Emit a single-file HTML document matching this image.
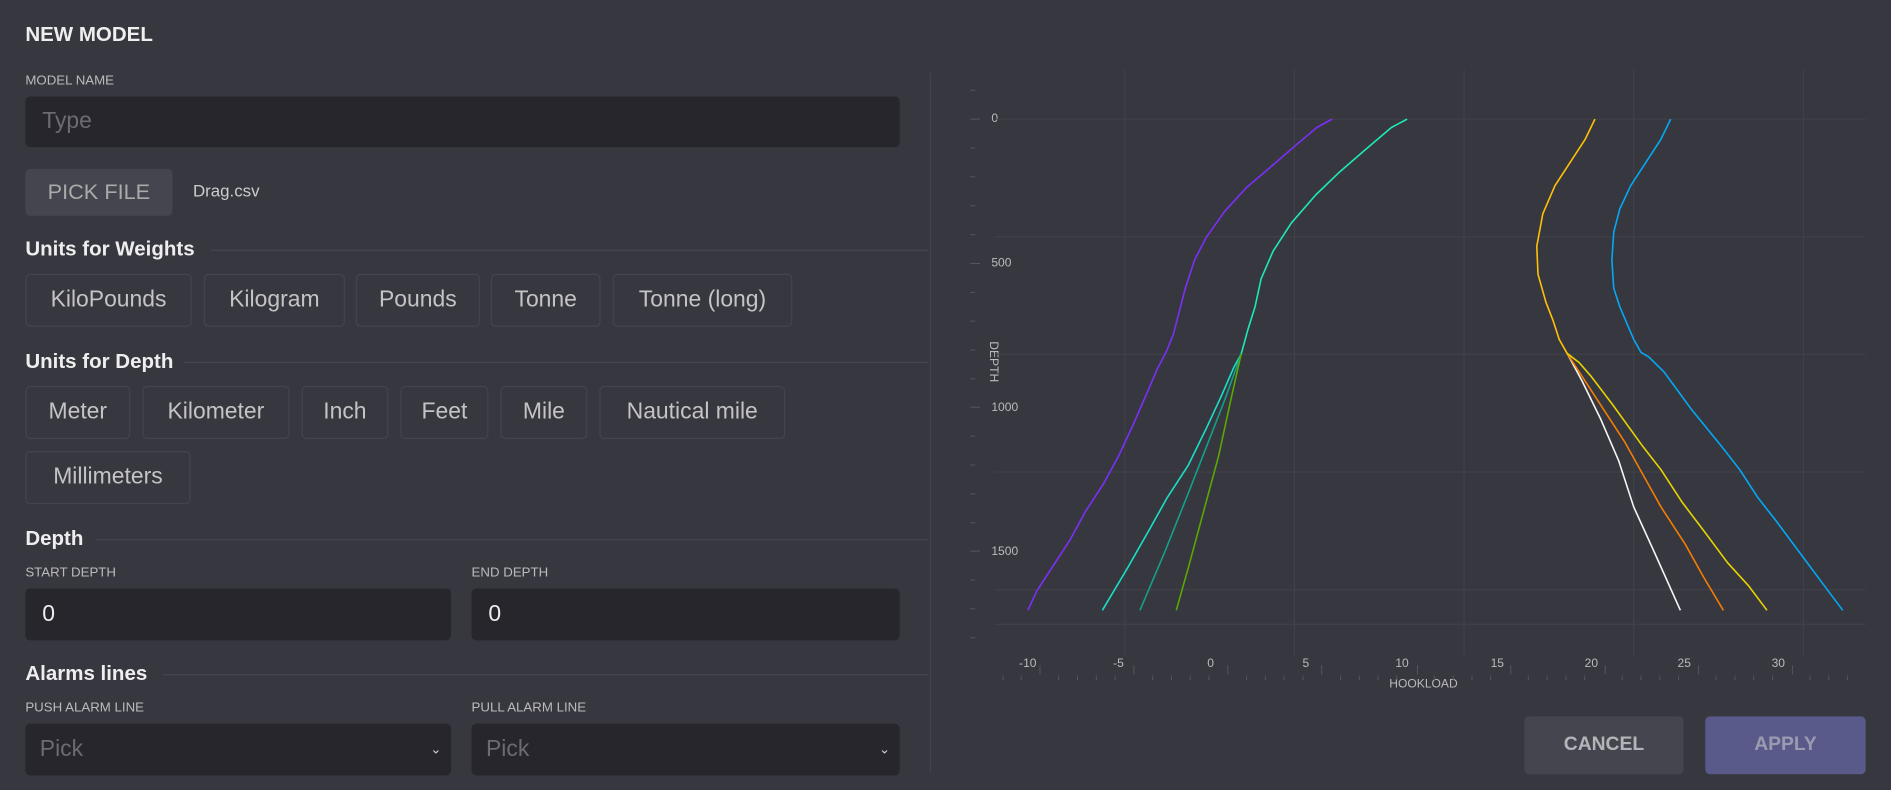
<!DOCTYPE html>
<html><head><meta charset="utf-8"><style>
html,body{margin:0;padding:0;background:#373740;width:1891px;height:790px;overflow:hidden;font-family:"Liberation Sans",sans-serif;}
#w{position:absolute;left:0;top:0;width:1568px;height:655px;transform:scale(1.20599);transform-origin:0 0;color:#ddd;}
.a{position:absolute;white-space:nowrap;}
.lbl{font-size:11px;color:#bbb;}
.h{font-size:17px;font-weight:bold;color:#eee;}
.line{position:absolute;height:1px;background:#46464e;}
.btn{position:absolute;border:1px solid #44444c;border-radius:4px;box-sizing:border-box;font-size:19px;color:#c4c4c4;display:flex;align-items:center;justify-content:center;}
.inp{position:absolute;background:#26262c;border-radius:4px;box-sizing:border-box;padding-left:14px;display:flex;align-items:center;font-size:19px;}
.tk{position:absolute;font-size:10px;color:#bbb;}
</style></head><body>
<div id="w">
<div class="a h" style="left:21px;top:19px;">NEW MODEL</div>
<div class="a lbl" style="left:21px;top:61px;">MODEL NAME</div>
<div class="inp" style="left:21px;top:80px;width:725px;height:42px;color:#6b6b72;">Type</div>
<div class="a" style="left:21px;top:140px;width:122px;height:39px;background:#45454f;border-radius:4px;color:#aaa;font-size:18px;display:flex;align-items:center;justify-content:center;">PICK FILE</div>
<div class="a" style="left:160px;top:150px;font-size:14px;color:#ccc;">Drag.csv</div>

<div class="a h" style="left:21px;top:197px;">Units for Weights</div>
<div class="line" style="left:175px;top:207px;width:595px;"></div>
<div class="btn" style="left:21px;top:227px;width:138px;height:44px;">KiloPounds</div>
<div class="btn" style="left:169px;top:227px;width:117px;height:44px;">Kilogram</div>
<div class="btn" style="left:295px;top:227px;width:103px;height:44px;">Pounds</div>
<div class="btn" style="left:407px;top:227px;width:91px;height:44px;">Tonne</div>
<div class="btn" style="left:508px;top:227px;width:149px;height:44px;">Tonne (long)</div>

<div class="a h" style="left:21px;top:290px;">Units for Depth</div>
<div class="line" style="left:152px;top:300px;width:618px;"></div>
<div class="btn" style="left:21px;top:320px;width:87px;height:44px;">Meter</div>
<div class="btn" style="left:118px;top:320px;width:122px;height:44px;">Kilometer</div>
<div class="btn" style="left:250px;top:320px;width:72px;height:44px;">Inch</div>
<div class="btn" style="left:332px;top:320px;width:73px;height:44px;">Feet</div>
<div class="btn" style="left:415px;top:320px;width:72px;height:44px;">Mile</div>
<div class="btn" style="left:497px;top:320px;width:154px;height:44px;">Nautical mile</div>
<div class="btn" style="left:21px;top:374px;width:137px;height:44px;">Millimeters</div>

<div class="a h" style="left:21px;top:437px;">Depth</div>
<div class="line" style="left:79px;top:447px;width:691px;"></div>
<div class="a lbl" style="left:21px;top:469px;">START DEPTH</div>
<div class="a lbl" style="left:391px;top:469px;">END DEPTH</div>
<div class="inp" style="left:21px;top:488px;width:353px;height:43px;color:#eee;">0</div>
<div class="inp" style="left:391px;top:488px;width:355px;height:43px;color:#eee;">0</div>

<div class="a h" style="left:21px;top:549px;">Alarms lines</div>
<div class="line" style="left:135px;top:559px;width:635px;"></div>
<div class="a lbl" style="left:21px;top:581px;">PUSH ALARM LINE</div>
<div class="a lbl" style="left:391px;top:581px;">PULL ALARM LINE</div>
<div class="inp" style="left:21px;top:600px;width:353px;height:43px;color:#6b6b72;padding-left:12px;">Pick<span style="position:absolute;right:8px;font-size:11px;color:#ccc;">&#8964;</span></div>
<div class="inp" style="left:391px;top:600px;width:355px;height:43px;color:#6b6b72;padding-left:12px;">Pick<span style="position:absolute;right:8px;font-size:11px;color:#ccc;">&#8964;</span></div>

<div class="a" style="left:771px;top:60px;width:1px;height:580px;background:#43434b;"></div>

<div class="tk" style="left:822px;top:93px;">0</div>
<div class="tk" style="left:822px;top:213px;">500</div>
<div class="tk" style="left:822px;top:333px;">1000</div>
<div class="tk" style="left:822px;top:452px;">1500</div>
<div class="tk" style="transform:rotate(90deg);transform-origin:0 0;left:829px;top:283px;">DEPTH</div>
<div class="tk" style="left:845px;top:545px;">-10</div>
<div class="tk" style="left:923px;top:545px;">-5</div>
<div class="tk" style="left:1001px;top:545px;">0</div>
<div class="tk" style="left:1080px;top:545px;">5</div>
<div class="tk" style="left:1157px;top:545px;">10</div>
<div class="tk" style="left:1236px;top:545px;">15</div>
<div class="tk" style="left:1314px;top:545px;">20</div>
<div class="tk" style="left:1391px;top:545px;">25</div>
<div class="tk" style="left:1469px;top:545px;">30</div>
<div class="tk" style="left:1152px;top:562px;">HOOKLOAD</div>

<div class="a" style="left:1264px;top:594px;width:132px;height:48px;background:#45454f;border-radius:4px;color:#b4b4b8;font-weight:bold;font-size:16px;display:flex;align-items:center;justify-content:center;">CANCEL</div>
<div class="a" style="left:1414px;top:594px;width:133px;height:48px;background:#5a5a8a;border-radius:4px;color:#9a9ab0;font-weight:bold;font-size:16px;display:flex;align-items:center;justify-content:center;">APPLY</div>
</div>

<svg style="position:absolute;left:940px;top:60px;" width="950" height="730" viewBox="0 0 1568 1568" preserveAspectRatio="none">
<g stroke="#42424a" stroke-width="1" fill="none">
<path vector-effect="non-scaling-stroke" d="M305 20V1280M585 20V1280M865 20V1280M1145 20V1280M1425 20V1280"/>
<path vector-effect="non-scaling-stroke" d="M90 127H1528M90 380H1528M90 632H1528M90 885H1528M90 1138H1528M90 1212H1528"/>
</g>
<g stroke="#55555d" fill="none">
<path vector-effect="non-scaling-stroke" d="M50 65h8M50 127h16M50 189h8M50 251h8M50 313h8M50 375h8M50 437h16M50 499h8M50 561h8M50 623h8M50 685h8M50 746h16M50 808h8M50 870h8M50 932h8M50 994h8M50 1055h16M50 1117h8M50 1179h8M50 1241h8"/>
<path vector-effect="non-scaling-stroke" d="M104 1322v10M134 1322v10M165 1300v20M196 1322v10M227 1322v10M258 1322v10M289 1322v10M320 1300v20M351 1322v10M382 1322v10M413 1322v10M444 1322v10M475 1300v20M506 1322v10M537 1322v10M568 1322v10M599 1322v10M630 1300v20M661 1322v10M692 1322v10M723 1322v10M754 1322v10M788 1300v20M816 1322v10M847 1322v10M878 1322v10M909 1322v10M942 1300v20M971 1322v10M1002 1322v10M1033 1322v10M1064 1322v10M1098 1300v20M1126 1322v10M1157 1322v10M1188 1322v10M1219 1322v10M1252 1300v20M1281 1322v10M1312 1322v10M1343 1322v10M1374 1322v10M1407 1300v20M1436 1322v10M1467 1322v10M1498 1322v10"/>
</g>
<g fill="none" stroke-width="1.6" stroke-linejoin="round">
<polyline vector-effect="non-scaling-stroke" stroke="#7b2ff7" points="647,127 622,145 590,180 550,225 505,275 470,325 440,380 420,430 405,490 395,540 385,590 373,628 360,660 340,720 320,780 295,850 270,910 240,970 215,1030 185,1090 160,1140 145,1182"/>
<polyline vector-effect="non-scaling-stroke" stroke="#1de9b6" points="771,127 745,145 700,195 660,240 620,290 580,350 550,410 530,470 520,530 508,580 497,632"/>
<polyline vector-effect="non-scaling-stroke" stroke="#18e0c8" points="497,632 485,660 465,720 440,790 410,870 375,940 345,1010 310,1090 268,1182"/>
<polyline vector-effect="non-scaling-stroke" stroke="#13a08a" points="497,632 470,730 440,830 410,930 370,1060 330,1182"/>
<polyline vector-effect="non-scaling-stroke" stroke="#5aa800" points="497,632 480,730 460,850 435,970 410,1090 390,1182"/>
<polyline vector-effect="non-scaling-stroke" stroke="#f5f5f5" points="1035,630 1060,690 1090,770 1120,860 1145,960 1180,1060 1222,1182"/>
<polyline vector-effect="non-scaling-stroke" stroke="#f57c00" points="1035,630 1060,680 1095,750 1130,820 1160,890 1190,960 1230,1040 1260,1110 1293,1182"/>
<polyline vector-effect="non-scaling-stroke" stroke="#e8d200" points="1035,630 1055,650 1075,680 1110,740 1160,830 1190,880 1225,950 1260,1010 1300,1080 1335,1130 1365,1182"/>
<polyline vector-effect="non-scaling-stroke" stroke="#ffc107" points="1081,127 1065,170 1040,220 1015,270 995,330 985,400 987,460 1000,520 1012,560 1022,600 1035,630"/>
<polyline vector-effect="non-scaling-stroke" stroke="#03a9f4" points="1206,127 1190,170 1165,220 1140,270 1122,320 1112,370 1109,430 1112,490 1122,530 1135,570 1145,600 1157,628 1170,638 1195,670 1240,750 1290,830 1320,880 1350,940 1380,990 1420,1060 1460,1130 1490,1182"/>
</g>
</svg>
</body></html>
